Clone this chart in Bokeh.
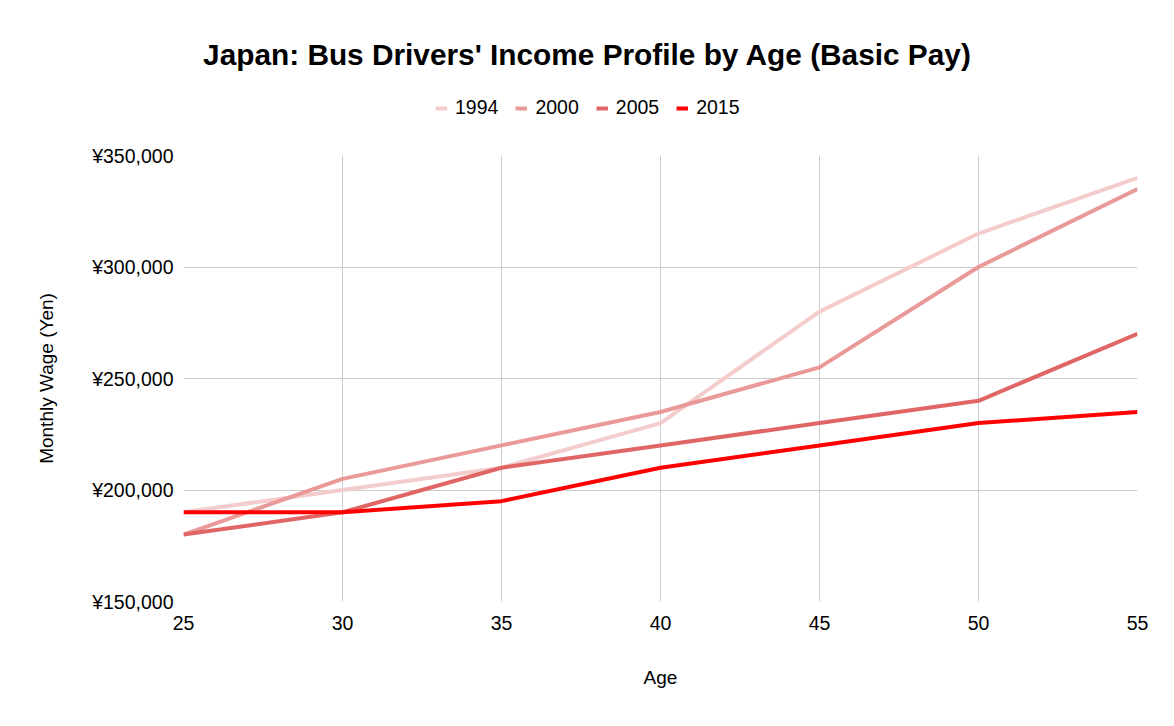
from bokeh.plotting import figure
from bokeh.layouts import column
from bokeh.models import Legend, LegendItem, Label, FixedTicker
from bokeh.embed import file_html
from bokeh.resources import INLINE

ages = [25, 30, 35, 40, 45, 50, 55]
wage_1994 = [190000, 200000, 210000, 230000, 280000, 315000, 340000]
wage_2000 = [180000, 205000, 220000, 235000, 255000, 300000, 335000]
wage_2005 = [180000, 190000, 210000, 220000, 230000, 240000, 270000]
wage_2015 = [190000, 190000, 195000, 210000, 220000, 230000, 235000]
series_names = ["1994", "2000", "2005", "2015"]
series_colors = ["#f4cccc", "#ea9999", "#e06666", "#ff0000"]
y_ticks = [150000, 200000, 250000, 300000, 350000]
y_tick_labels = ["¥150,000", "¥200,000", "¥250,000", "¥300,000", "¥350,000"]
x_ticks = [25, 30, 35, 40, 45, 50, 55]
title_text = "Japan: Bus Drivers' Income Profile by Age (Basic Pay)"

FONT = "Liberation Sans"
W = 1158
HEAD_H = 130
MAIN_H = 580
FRAME_L = 183
FRAME_R = 1137
series = [wage_1994, wage_2000, wage_2005, wage_2015]

# ---- header: title + legend (header frame is aligned with the main frame) ----
head = figure(width=W, height=HEAD_H, output_backend="svg", toolbar_location=None,
              x_range=(FRAME_L, FRAME_R), y_range=(0, HEAD_H),
              min_border_left=FRAME_L, min_border_right=W - FRAME_R,
              min_border_top=0, min_border_bottom=0)
head.axis.visible = False
head.grid.visible = False
head.outline_line_color = None
head.background_fill_color = "white"
head.border_fill_color = "white"

head_renderers = []
for name, col, ys in zip(series_names, series_colors, series):
    # same series, lying far outside the header's view: only used for legend swatches
    r = head.line(ages, ys, line_color=col, line_width=4)
    head_renderers.append((name, r))

head.add_layout(Label(x=587, y=76.5, text=title_text, text_font=FONT,
                      text_font_size="29.8px", text_font_style="bold", text_color="#000000",
                      text_align="center", text_baseline="alphabetic"))

legend = Legend(items=[LegendItem(label=n, renderers=[r]) for n, r in head_renderers],
                orientation="horizontal", location=(252, 11),
                label_text_font=FONT, label_text_font_size="19.5px", label_text_color="#000000",
                glyph_width=12, glyph_height=20, label_standoff=8, spacing=17,
                padding=4, margin=0, border_line_color=None, background_fill_alpha=0)
head.add_layout(legend, "center")

# ---- main chart ----
p = figure(width=W, height=MAIN_H, output_backend="svg", toolbar_location=None,
           x_range=(25, 55), y_range=(150000, 350000),
           min_border_left=FRAME_L, min_border_right=W - FRAME_R, min_border_top=155 - HEAD_H,
           min_border_bottom=HEAD_H + MAIN_H - 601)
p.outline_line_color = None
p.background_fill_color = "white"
p.border_fill_color = "white"

for name, col, ys in zip(series_names, series_colors, series):
    p.line(ages, ys, line_color=col, line_width=4)

for ax in (p.xaxis[0], p.yaxis[0]):
    ax.axis_line_color = None
    ax.major_tick_line_color = None
    ax.minor_tick_line_color = None
    ax.major_label_text_font = FONT
    ax.major_label_text_font_size = "19.5px"
    ax.major_label_text_color = "#000000"
    ax.axis_label_text_font = FONT
    ax.axis_label_text_font_size = "19px"
    ax.axis_label_text_font_style = "normal"
    ax.axis_label_text_color = "#000000"

p.xaxis.ticker = FixedTicker(ticks=x_ticks)
p.yaxis.ticker = FixedTicker(ticks=y_ticks)
p.yaxis.major_label_overrides = {t: l for t, l in zip(y_ticks, y_tick_labels)}
p.xaxis.axis_label = "Age"
p.yaxis.axis_label = "Monthly Wage (Yen)"
p.xaxis.major_label_standoff = 8
p.yaxis.major_label_standoff = 4
p.xaxis.axis_label_standoff = 34
p.yaxis.axis_label_standoff = 32

p.xgrid.grid_line_color = "#cccccc"
p.ygrid.grid_line_color = "#cccccc"
p.xgrid.grid_line_width = 1
p.ygrid.grid_line_width = 1

layout = column(head, p, spacing=0)
open("out.html", "w").write(file_html(layout, INLINE))
